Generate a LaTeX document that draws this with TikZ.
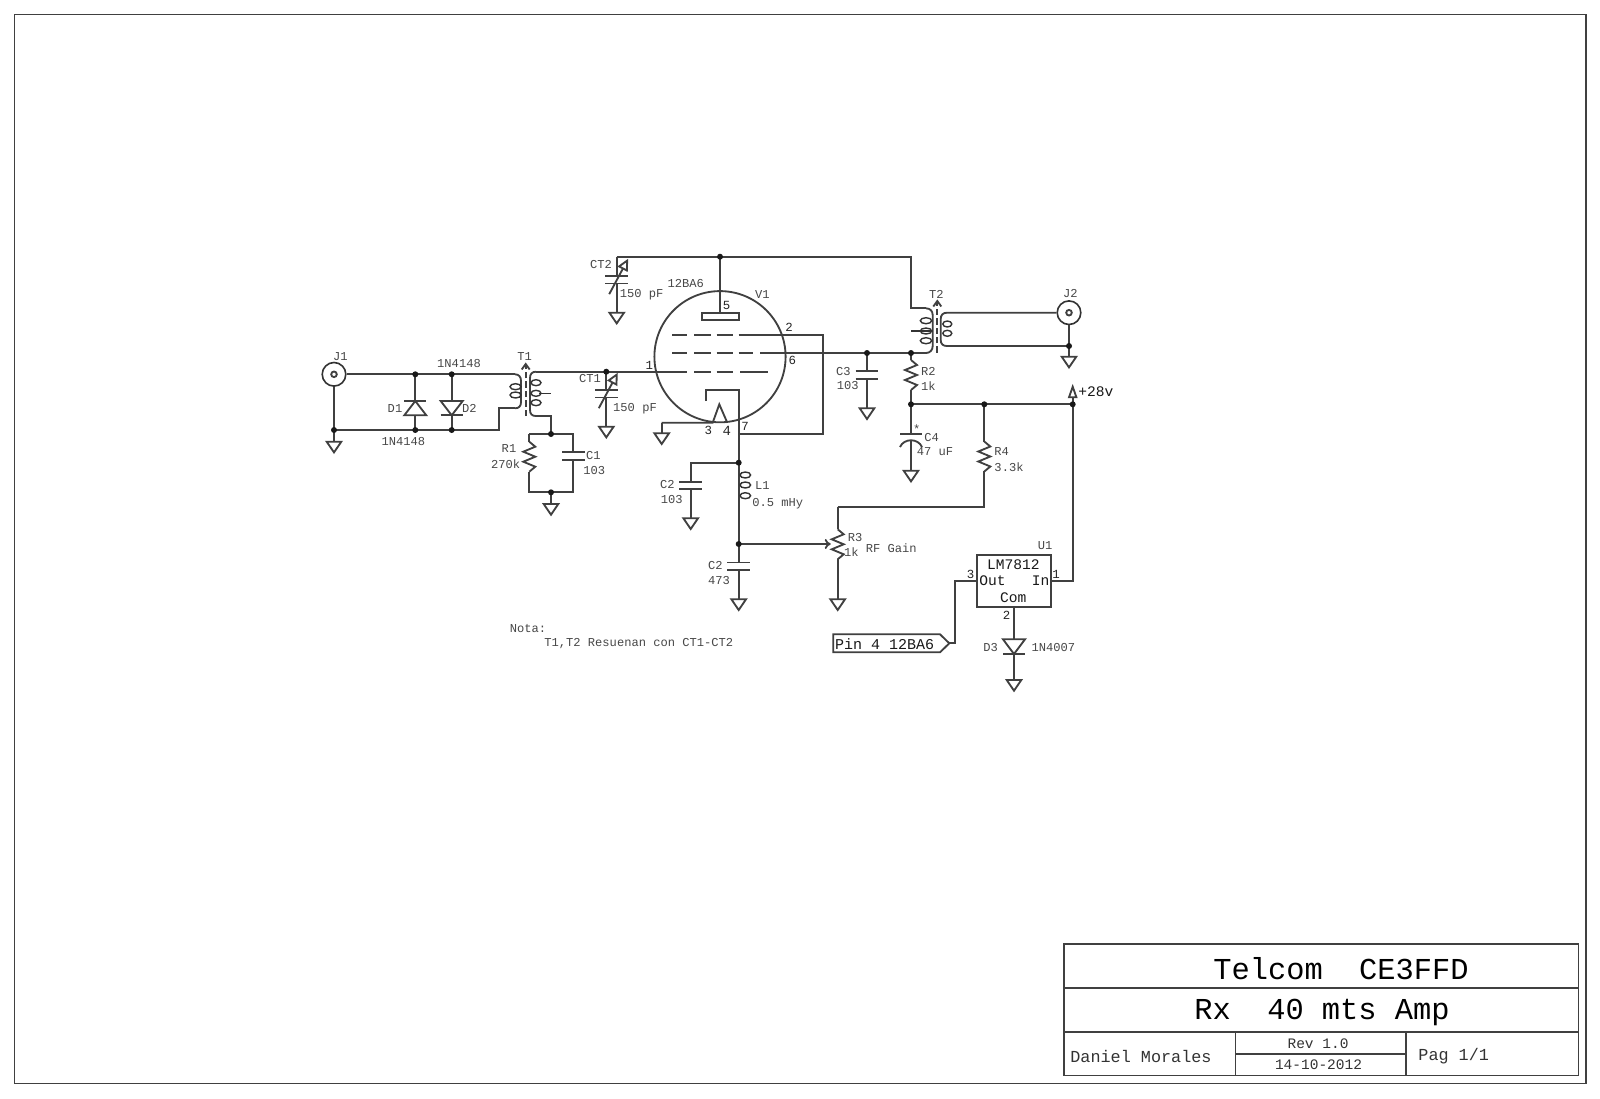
\documentclass[tikz,border=0pt]{standalone}
\usepackage{fontspec}
\setmainfont{Liberation Mono}
\usetikzlibrary{arrows.meta,positioning}

\tikzset{
    wire/.style={line width=0.92pt, black!75},
    lbl/.style={font=\fontsize{6.05}{7}\selectfont, inner sep=0pt, text=black!72},
    smalllbl/.style={font=\fontsize{7.25}{8}\selectfont, inner sep=0pt, text=black!80},
    pinlbl/.style={font=\fontsize{6.2}{7}\selectfont, inner sep=0pt, text=black!85},
    midlbl/.style={font=\fontsize{7.3}{8}\selectfont, inner sep=0pt, text=black!90},
    blocklbl/.style={font=\fontsize{8.4}{9}\selectfont, inner sep=0pt, text=black!80},
    titlelbl/.style={font=\fontsize{15.2}{17}\selectfont, inner sep=0pt},
    coiltap/.style={line width=0.7pt, black!80},
    core/.style={wire, dash pattern=on 3.2pt off 1.5pt},
    jack/.style={draw, circle, line width=0.8pt, black!80, minimum size=11.8pt, inner sep=0pt}
}

\begin{document}
\begin{tikzpicture}[>=stealth, x=0.5pt, y=-0.5pt]

\useasboundingbox (0,0) rectangle (1600,1098);
\fill[white] (0,0) rectangle (1600,1098);

% Macros for the parts, all placed on named coordinates
\newcommand{\groundat}[1]{
    \draw[wire] (#1) -- ++(-7.3,0) -- ++(7.3,10.7) -- ++(7.3,-10.7) -- cycle;
}
\newcommand{\junction}[1]{
    \fill[black!90] (#1) circle (3);
}
\newcommand{\zigres}[1]{
    \begin{scope}[shift={(#1)}]
        \draw[wire] (0,0) -- (6,5) -- (-6,10) -- (6,15) -- (-6,20) -- (6,25) -- (0,30);
    \end{scope}
}
\newcommand{\capplates}[1]{
    \begin{scope}[shift={(#1)}]
        \draw[wire] (-11.3,-3.8) -- (11.3,-3.8);
        \draw[wire] (-11.3,3.8) -- (11.3,3.8);
    \end{scope}
}
\newcommand{\trimcap}[1]{
    \begin{scope}[shift={(#1)}]
        \draw[wire] (-11.3,-3.8) -- (11.3,-3.8);
        \draw[wire] (-11.3,3.8) -- (11.3,3.8);
        \draw[wire, -{Triangle[open, length=6pt, width=5.6pt]}] (-7.5,14.5) -- (11.5,-21);
    \end{scope}
}
\newcommand{\coretip}[1]{
    \draw[wire] (#1) ++(-4,5.5) -- ++(4,-5.5) -- ++(4,5.5);
}

% Sheet and title block
\draw[wire] (14.5,14.5) rectangle (1586,1083.5);
\draw[wire] (1064,944) rectangle (1578.5,1075.5);
\draw[wire] (1064,988) -- (1578.5,988);
\draw[wire] (1064,1032) -- (1578.5,1032);
\draw[wire] (1235.5,1032) -- (1235.5,1075.5);
\draw[wire] (1406,1032) -- (1406,1075.5);
\draw[wire] (1235.5,1054) -- (1406,1054);
\node[titlelbl] (sheettitle) at (1341,968.5) {Telcom\ \ CE3FFD};
\node[titlelbl] (sheetname) at (1322,1012.5) {Rx\ \ 40 mts Amp};
\node[blocklbl, anchor=west] (sheetauthor) at (1070,1056.5) {Daniel Morales};
\node[smalllbl] (sheetrev) at (1318,1043.5) {Rev 1.0};
\node[smalllbl] (sheetdate) at (1318.5,1065) {14-10-2012};
\node[blocklbl, anchor=west] (sheetpage) at (1418,1056.5) {Pag 1/1};

% Connectors and tube
\node[jack] (jone) at (334,374.3) {};
\draw[wire] (jone) circle (2.8);
\node[jack] (jtwo) at (1069,312.7) {};
\draw[wire] (jtwo) circle (2.8);
\node[draw, circle, wire, minimum size=65.6pt, inner sep=0pt] (tube) at (720,356.7) {};
\node[draw, rectangle, wire, minimum width=36.7pt, minimum height=25.9pt, inner sep=0pt] (reg) at (1014,580.8) {};

% Junctions and ends of the wires
\coordinate (dOneTop) at (415.3,374.3);
\coordinate (dTwoTop) at (451.7,374.3);
\coordinate (tOneIn) at (515,374.3);
\coordinate (jOneLow) at (334,430);
\coordinate (dOneLow) at (415.3,430);
\coordinate (dTwoLow) at (451.7,430);
\coordinate (tOneRet) at (499.3,430);
\coordinate (tOneRetUp) at (499.3,408.3);
\coordinate (tOneBot) at (515,408.3);
\coordinate (gJone) at (334,441.7);
\coordinate (tOneSecTop) at (536,371.7);
\coordinate (tOneSecBot) at (536,416);
\coordinate (rcTop) at (551,434);
\coordinate (rOneTop) at (529.3,434);
\coordinate (cOneTop) at (573.3,434);
\coordinate (rcBot) at (551,492.3);
\coordinate (rOneBot) at (529.3,492.3);
\coordinate (cOneBot) at (573.3,492.3);
\coordinate (gRc) at (551,504);
\coordinate (ctOneTop) at (606.3,371.7);
\coordinate (gCtOne) at (606.3,426.7);
\coordinate (gridOne) at (687.3,371.7);
\coordinate (plateTop) at (720,256.7);
\coordinate (plateLow) at (720,312.7);
\coordinate (ctTwoTop) at (616.7,256.7);
\coordinate (gCtTwo) at (616.7,312.7);
\coordinate (tTwoFeed) at (911,256.7);
\coordinate (tTwoFeedLow) at (911,308.3);
\coordinate (tTwoIn) at (926,308.3);
\coordinate (gridTwo) at (753,334.7);
\coordinate (screenRight) at (822.7,334.7);
\coordinate (screenLow) at (822.7,433.7);
\coordinate (cathEnd) at (738.7,433.7);
\coordinate (cathTop) at (738.7,390);
\coordinate (cathLeft) at (705.7,390);
\coordinate (cathStub) at (705.7,401);
\coordinate (filLeft) at (712.7,422.7);
\coordinate (filRight) at (727.3,422.7);
\coordinate (filApex) at (719.3,404.3);
\coordinate (filWire) at (661.7,422.7);
\coordinate (gFil) at (661.7,433.3);
\coordinate (cathNode) at (738.7,462.7);
\coordinate (lOneLow) at (738.7,544);
\coordinate (gCtwoBig) at (738.7,599.3);
\coordinate (cTwoTop) at (690.7,462.7);
\coordinate (gCtwoSmall) at (690.7,518.3);
\coordinate (wiper) at (830.7,544);
\coordinate (rThreeTop) at (837.7,507.3);
\coordinate (gRthree) at (837.7,599.3);
\coordinate (rFourLow) at (984.3,507.3);
\coordinate (supplyLeft) at (911,404.3);
\coordinate (supplyMid) at (984.3,404.3);
\coordinate (supplyRight) at (1072.7,404.3);
\coordinate (plusBase) at (1072.7,397.3);
\coordinate (regIn) at (1072.7,580.8);
\coordinate (cThreeTop) at (867,353);
\coordinate (gCthree) at (867,408.3);
\coordinate (screenNode) at (911,353);
\coordinate (tTwoBot) at (926,353);
\coordinate (gCfour) at (911,470.7);
\coordinate (tTwoSecTop) at (947,312.7);
\coordinate (tTwoSecBot) at (947,346);
\coordinate (jTwoLow) at (1069,346);
\coordinate (gJtwo) at (1069,356.7);
\coordinate (regOutLeft) at (955,580.8);
\coordinate (regOutLow) at (955,643.3);
\coordinate (tagTip) at (949.3,643.3);
\coordinate (dThreeTop) at (1014,639.3);
\coordinate (dThreeLow) at (1014,654);
\coordinate (gDthree) at (1014,680);
\coordinate (coreOneTop) at (525.7,364);
\coordinate (coreTwoTop) at (937.3,301);

% Input side
\draw[wire] (jone.east) -- (tOneIn);
\draw[wire] (jone.south) -- (gJone);
\draw[wire] (jOneLow) -- (tOneRet) -- (tOneRetUp) -- (tOneBot);
\draw[wire] (dOneTop) -- (dOneLow);
\draw[wire] (dTwoTop) -- (dTwoLow);
\draw[wire, fill=white] (415.3,401) -- (404.3,415.3) -- (426.3,415.3) -- cycle;
\draw[wire] (404.3,401) -- (426.3,401);
\draw[wire, fill=white] (451.7,415.3) -- (440.7,401) -- (462.7,401) -- cycle;
\draw[wire] (440.7,415.3) -- (462.7,415.3);

% T1
\draw[wire] (tOneIn) .. controls (519,374.3) and (521,377) .. (521,381) -- (521,402) .. controls (521,406) and (519,408.3) .. (tOneBot);
\foreach \y in {386.7, 395} {
    \draw[coiltap] (515.5,\y) ellipse (5.5 and 3);
}
\draw[core] (525.7,416) -- (coreOneTop);
\coretip{coreOneTop}
\draw[wire] (tOneSecTop) .. controls (532,371.7) and (530,374) .. (530,378) -- (530,410) .. controls (530,414) and (532,416) .. (tOneSecBot) -- (551,416) -- (rcTop);
\foreach \y in {382.7, 393.3, 402.7} {
    \draw[coiltap] (536,\y) ellipse (5 and 3);
}
\draw[coiltap] (539,393.3) -- (551,393.3);

% R1 and C1
\draw[wire] (rOneTop) -- (cOneTop) -- (cOneBot) -- (rOneBot) -- (rOneTop);
\fill[white] (522,441.7) rectangle (536,471.7);
\fill[white] (560,452.3) rectangle (586,460);
\zigres{529.3,441.7}
\capplates{573.3,456.2}
\draw[wire] (rcBot) -- (gRc);

% Tube input and CT1
\draw[wire] (tOneSecTop) -- (gridOne);
\draw[wire] (ctOneTop) -- (606.3,390);
\draw[wire] (606.3,397.3) -- (gCtOne);
\trimcap{606.3,393.7}

% Tube grids and plate
\foreach \xa/\xb in {694/710.7, 716.7/733, 740/768.3} {
    \draw[wire] (\xa,371.7) -- (\xb,371.7);
}
\foreach \xa/\xb in {672.3/687.3, 694/710.7, 716.7/733, 738.7/753} {
    \draw[wire] (\xa,334.7) -- (\xb,334.7);
    \draw[wire] (\xa,353) -- (\xb,353);
}
\draw[wire] (gridTwo) -- (screenRight) -- (screenLow) -- (cathEnd);
\draw[wire] (760,353) -- (tTwoBot);
\draw[wire] (plateTop) -- (plateLow);
\draw[wire] (701.7,312.7) rectangle (738.7,320.3);
\draw[wire] (ctTwoTop) -- (tTwoFeed) -- (tTwoFeedLow) -- (tTwoIn);
\draw[wire] (ctTwoTop) -- (616.7,275.7);
\draw[wire] (616.7,283.7) -- (gCtTwo);
\trimcap{616.7,279.7}

% Cathode and filament
\draw[wire] (cathStub) -- (cathLeft) -- (cathTop) -- (cathNode);
\draw[wire] (filWire) -- (filLeft) -- (filApex) -- (filRight);
\draw[wire] (filWire) -- (gFil);

% L1, C2, R3
\draw[wire] (cathNode) -- (cTwoTop) -- (690.7,481.7);
\draw[wire] (690.7,489.3) -- (gCtwoSmall);
\capplates{690.7,485.5}
\draw[wire] (cathNode) -- (lOneLow) -- (738.7,562.3);
\foreach \y in {475, 485, 495.7} {
    \draw[coiltap] (745.3,\y) ellipse (5.3 and 3);
}
\draw[wire] (738.7,570.3) -- (gCtwoBig);
\capplates{738.7,566.3}
\draw[wire, ->, >={To[length=3pt, width=5pt]}] (lOneLow) -- (wiper);
\draw[wire] (rThreeTop) -- (837.7,529.3);
\zigres{837.7,529.3}
\draw[wire] (837.7,559.3) -- (gRthree);
\draw[wire] (rThreeTop) -- (rFourLow) -- (984.3,471);
\zigres{984.3,441.5}
\draw[wire] (supplyMid) -- (984.3,441.5);

% Output side
\draw[wire] (cThreeTop) -- (867,371.7);
\draw[wire] (867,378.7) -- (gCthree);
\capplates{867,375.2}
\draw[wire] (screenNode) -- (911,360);
\zigres{911,360}
\draw[wire] (911,390) -- (supplyLeft) -- (supplyRight);
\draw[wire] (supplyLeft) -- (911,433.7);
\draw[wire] (900,433.7) -- (922,433.7);
\draw[wire] (900,447) .. controls (904,438) and (918,438) .. (922,447);
\draw[wire] (911,440.8) -- (gCfour);
\draw[wire] (plusBase) -- (regIn) -- (reg.east);
\draw[wire] (1072.7,386.7) -- (1069,397.3) -- (1076.4,397.3) -- cycle;

% T2
\draw[wire] (tTwoIn) .. controls (930,308.3) and (932.7,311) .. (932.7,315) -- (932.7,346) .. controls (932.7,350) and (930,353) .. (tTwoBot);
\foreach \y in {320.7, 331, 340.7} {
    \draw[coiltap] (926,\y) ellipse (5.7 and 3);
}
\draw[coiltap] (911,331) -- (933,331);
\draw[core] (937.3,352.7) -- (coreTwoTop);
\coretip{coreTwoTop}
\draw[wire] (jtwo.west) -- (tTwoSecTop) .. controls (943,312.7) and (940.7,315) .. (940.7,319) -- (940.7,340) .. controls (940.7,344) and (943,346) .. (tTwoSecBot) -- (jTwoLow);
\foreach \y in {324, 333.3} {
    \draw[coiltap] (947.3,\y) ellipse (4.5 and 3);
}
\draw[wire] (jtwo.south) -- (gJtwo);

% Regulator and its outputs
\draw[wire] (reg.west) -- (regOutLeft) -- (regOutLow) -- (tagTip);
\draw[wire] (833.3,634.3) -- (940,634.3) -- (tagTip) -- (940,652.3) -- (833.3,652.3) -- cycle;
\draw[wire] (reg.south) -- (dThreeTop);
\draw[wire] (1003,639.3) -- (1025,639.3) -- (dThreeLow) -- cycle;
\draw[wire] (1003,654) -- (1025,654);
\draw[wire] (dThreeLow) -- (gDthree);

% Grounds
\foreach \g in {gJone, gRc, gCtOne, gCtTwo, gFil, gCtwoSmall, gCtwoBig, gRthree, gCthree, gCfour, gJtwo, gDthree} {
    \groundat{\g}
}

% Dots
\foreach \j in {dOneTop, dTwoTop, jOneLow, dOneLow, dTwoLow, rcTop, rcBot, ctOneTop, plateTop, cathNode, lOneLow, cThreeTop, screenNode, supplyLeft, supplyMid, supplyRight, jTwoLow} {
    \junction{\j}
}

% Labels
\node[lbl] (lblJone) at (340.3,356.7) {J1};
\node[lbl] (lblTone) at (524.7,356.7) {T1};
\node[lbl] (lblDone) at (395,408.3) {D1};
\node[lbl] (lblDtwo) at (469.3,408.3) {D2};
\node[lbl] (lblDoneVal) at (403.3,441.7) {1N4148};
\node[lbl] (lblDtwoVal) at (459,364) {1N4148};
\node[lbl] (lblRone) at (509,448.3) {R1};
\node[lbl] (lblRoneVal) at (505.7,464) {270k};
\node[lbl] (lblCone) at (593.3,456) {C1};
\node[lbl] (lblConeVal) at (594.3,471) {103};
\node[lbl] (lblCtone) at (590,378.3) {CT1};
\node[lbl] (lblCtoneVal) at (635,408.3) {150 pF};
\node[lbl] (lblCttwo) at (601,265) {CT2};
\node[lbl] (lblCttwoVal) at (641.7,295) {150 pF};
\node[lbl] (lblTube) at (685.7,283.3) {12BA6};
\node[lbl] (lblVone) at (762.3,295) {V1};
\node[pinlbl] (pinOne) at (649.3,365) {1};
\node[pinlbl] (pinTwo) at (789,327.3) {2};
\node[pinlbl] (pinThree) at (708.3,430.7) {3};
\node[pinlbl, font=\fontsize{7}{8}\selectfont] (pinFour) at (726.7,430.7) {4};
\node[pinlbl] (pinFive) at (726.7,305.7) {5};
\node[pinlbl] (pinSix) at (792.3,360.7) {6};
\node[pinlbl] (pinSeven) at (745,426.7) {7};
\node[lbl] (lblCtwoA) at (667.3,485) {C2};
\node[lbl] (lblCtwoAVal) at (671.7,500) {103};
\node[lbl] (lblLone) at (762.3,486) {L1};
\node[lbl] (lblLoneVal) at (777.7,504) {0.5 mHy};
\node[lbl] (lblCtwoB) at (715.3,566) {C2};
\node[lbl] (lblCtwoBVal) at (719,581) {473};
\node[lbl] (lblRthree) at (855,537.3) {R3};
\node[lbl] (lblRthreeVal) at (851.3,552.3) {1k};
\node[lbl] (lblGain) at (891.3,548.3) {RF Gain};
\node[lbl] (lblCthree) at (843.3,371.7) {C3};
\node[lbl] (lblCthreeVal) at (847.7,385.7) {103};
\node[lbl] (lblRtwo) at (928.3,371.7) {R2};
\node[lbl] (lblRtwoVal) at (928.3,386) {1k};
\node[lbl] (lblStar) at (916.7,429) {*};
\node[lbl] (lblCfour) at (931.7,437.7) {C4};
\node[lbl] (lblCfourVal) at (935,451.7) {47 uF};
\node[lbl] (lblRfour) at (1001.7,451.7) {R4};
\node[lbl] (lblRfourVal) at (1009,466.7) {3.3k};
\node[lbl] (lblTtwo) at (936.3,294) {T2};
\node[lbl] (lblJtwo) at (1070.3,294) {J2};
\node[midlbl, anchor=west] (lblPlus) at (1078,391.7) {+28v};
\node[midlbl] (lblChip) at (1013.3,565) {LM7812};
\node[midlbl] (lblOut) at (992.5,580.7) {Out};
\node[midlbl] (lblIn) at (1040.5,580.7) {In};
\node[midlbl] (lblCom) at (1013.3,597.3) {Com};
\node[lbl] (lblUone) at (1045,546) {U1};
\node[pinlbl] (pinRegThree) at (970.7,574) {3};
\node[pinlbl] (pinRegOne) at (1056,574) {1};
\node[pinlbl] (pinRegTwo) at (1006.7,615) {2};
\node[midlbl, font=\fontsize{7.5}{8}\selectfont] (lblTag) at (884.5,644) {Pin 4 12BA6};
\node[lbl] (lblDthree) at (990.7,647.3) {D3};
\node[lbl] (lblDthreeVal) at (1053.3,647.3) {1N4007};
\node[lbl, anchor=west] (lblNota) at (509.5,628.6) {Nota:};
\node[lbl, anchor=west] (lblNote) at (544,644) {T1,T2 Resuenan con CT1-CT2};

\end{tikzpicture}
\end{document}
